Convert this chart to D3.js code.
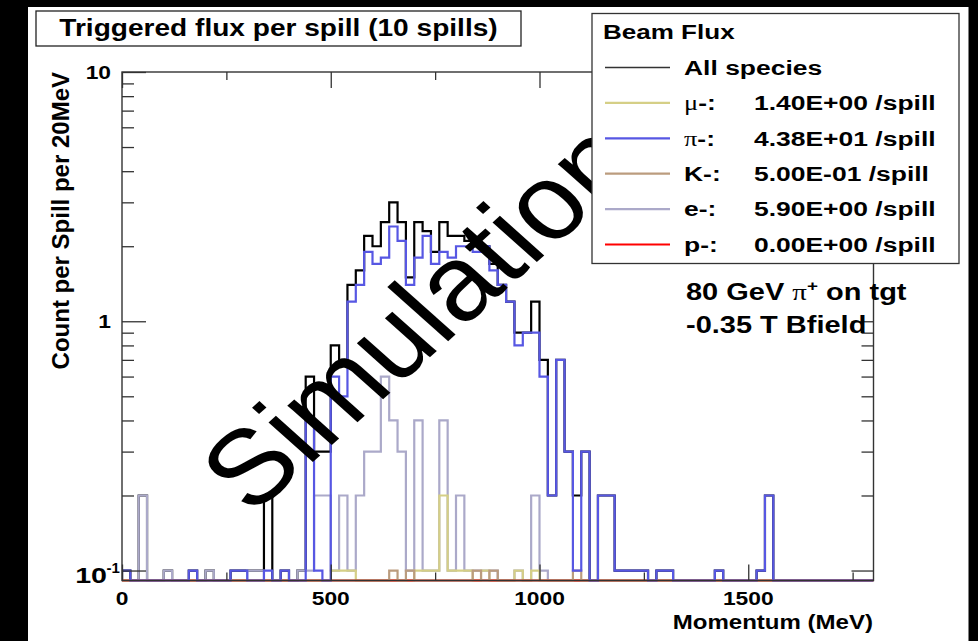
<!DOCTYPE html>
<html>
<head>
<meta charset="utf-8">
<script src="https://cdn.jsdelivr.net/npm/d3@7/dist/d3.min.js"></script>
<style>
  html, body { margin: 0; padding: 0; background: #fff; }
  svg { display: block; }
  text { font-family: "Liberation Sans", Arial, Helvetica, sans-serif; font-weight: bold; fill: #000; }
</style>
</head>
<body>
<svg id="chart" width="978" height="641"></svg>
<script>
// ---- Binning: 90 bins of 20 MeV from 0 to 1800 MeV ----
const binWidth = 20;
const nBins = 90;

// ---- Count per spill per 20 MeV, one value per bin ----
const allSpecies = [
  0.1, 0, 0.2, 0, 0, 0.1, 0, 0, 0.1, 0,
  0.1, 0, 0, 0.1, 0.1, 0.1, 0.1, 0.2, 0, 0.1,
  0, 0.1, 0.6, 0.3, 0.3, 0.8, 0.7, 1.4, 1.6, 2.2,
  2.0, 2.5, 3.0, 2.5, 1.5, 2.5, 2.3, 1.9, 2.5, 2.2,
  2.2, 2.1, 2.0, 2.0, 1.7, 1.4, 1.2, 0.9, 0.9, 1.2,
  0.7, 0.2, 0.7, 0.3, 0.2, 0.3, 0, 0.2, 0.2, 0.1,
  0.1, 0.1, 0.1, 0, 0.1, 0.1, 0, 0, 0, 0,
  0, 0.1, 0, 0, 0, 0, 0.1, 0.2, 0, 0,
  0, 0, 0, 0, 0, 0, 0, 0, 0, 0
];
const muMinus = [
  0, 0, 0, 0, 0, 0, 0, 0, 0, 0,
  0, 0, 0, 0, 0, 0, 0, 0, 0, 0,
  0, 0, 0, 0, 0, 0.1, 0.1, 0.1, 0, 0,
  0, 0, 0, 0, 0, 0.1, 0.1, 0.1, 0.2, 0.1,
  0.1, 0.1, 0, 0.1, 0, 0, 0, 0.1, 0, 0.1,
  0, 0, 0, 0, 0, 0, 0, 0, 0, 0,
  0, 0, 0, 0, 0, 0, 0, 0, 0, 0,
  0, 0, 0, 0, 0, 0, 0, 0, 0, 0,
  0, 0, 0, 0, 0, 0, 0, 0, 0, 0
];
const piMinus = [
  0.1, 0, 0, 0, 0, 0, 0, 0, 0.1, 0,
  0, 0, 0, 0.1, 0.1, 0, 0, 0.1, 0, 0.1,
  0, 0, 0.4, 0.1, 0, 0.6, 0.5, 1.2, 1.4, 1.9,
  1.7, 1.8, 2.4, 2.1, 1.4, 1.8, 2.2, 1.7, 1.9, 1.8,
  2.0, 2.0, 1.9, 2.0, 1.6, 1.4, 1.2, 0.8, 0.9, 0.9,
  0.6, 0.2, 0.7, 0.3, 0.1, 0.3, 0, 0.2, 0.2, 0.1,
  0.1, 0.1, 0.1, 0, 0.1, 0.1, 0, 0, 0, 0,
  0, 0.1, 0, 0, 0, 0, 0.1, 0.2, 0, 0,
  0, 0, 0, 0, 0, 0, 0, 0, 0, 0
];
const kMinus = [
  0, 0, 0, 0, 0, 0, 0, 0, 0, 0,
  0, 0, 0, 0, 0, 0, 0, 0, 0, 0,
  0, 0, 0, 0, 0, 0, 0, 0, 0, 0,
  0, 0, 0.1, 0, 0.1, 0, 0, 0, 0, 0,
  0, 0, 0.1, 0, 0.1, 0, 0, 0, 0, 0,
  0, 0, 0, 0, 0.1, 0, 0, 0, 0, 0,
  0, 0, 0, 0, 0, 0, 0, 0, 0, 0,
  0, 0, 0, 0, 0, 0, 0, 0, 0, 0,
  0, 0, 0, 0, 0, 0, 0, 0, 0, 0
];
const eMinus = [
  0, 0, 0.2, 0, 0, 0.1, 0, 0, 0, 0,
  0.1, 0, 0, 0, 0, 0.1, 0.1, 0, 0, 0,
  0, 0.1, 0.1, 0.2, 0.2, 0.1, 0.2, 0.1, 0.2, 0.3,
  0.3, 0.6, 0.4, 0.3, 0.1, 0.4, 0.1, 0.1, 0.4, 0.1,
  0.2, 0.1, 0.1, 0.1, 0.1, 0, 0, 0.1, 0, 0.2,
  0.1, 0, 0, 0, 0, 0, 0, 0, 0, 0,
  0, 0, 0, 0, 0, 0, 0, 0, 0, 0,
  0, 0, 0, 0, 0, 0, 0, 0, 0, 0,
  0, 0, 0, 0, 0, 0, 0, 0, 0, 0
];
const pMinus = new Array(90).fill(0);

// ---- Axis ticks and labels ----
const xMajorTicks = [0, 500, 1000, 1500];
const xMinorTicks = [250, 750, 1250, 1750];
const xTickLabels = ["0", "500", "1000", "1500"];
const yMajorTicks = [0.1, 1, 10];
const yMinorTicks = [0.2, 0.3, 0.4, 0.5, 0.6, 0.7, 0.8, 0.9, 2, 3, 4, 5, 6, 7, 8, 9];
const yTickLabels = [{ base: "10", exp: "-1" }, { base: "1", exp: "" }, { base: "10", exp: "" }];

// ---- Series styling (draw order: last on top) ----
const series = [
  { key: "all", values: allSpecies, color: "#000000" },
  { key: "e",   values: eMinus,     color: "#aba9c9" },
  { key: "mu",  values: muMinus,    color: "#d5cf86" },
  { key: "p",   values: pMinus,     color: "#ff0000" },
  { key: "K",   values: kMinus,     color: "#bb9c7e" },
  { key: "pi",  values: piMinus,    color: "#5757e3" }
];

const legendRows = [
  { sym: "",  label: "All species", color: "#333333", width: 1.4, values: null },
  { sym: "\u03bc", label: "-:", color: "#d5cf86", width: 2.2, values: muMinus },
  { sym: "\u03c0", label: "-:", color: "#5757e3", width: 2.2, values: piMinus },
  { sym: "",  label: "K-:", color: "#bb9c7e", width: 2.2, values: kMinus },
  { sym: "",  label: "e-:", color: "#aba9c9", width: 2.2, values: eMinus },
  { sym: "",  label: "p-:", color: "#ff0000", width: 2.2, values: pMinus }
];

// ---- Layout ----
const svg = d3.select("#chart");
const frame = { left: 122, right: 873.5, top: 72, bottom: 580.5 };

const x = d3.scaleLinear().domain([0, nBins * binWidth]).range([frame.left, frame.right]);
const y = d3.scaleLog().domain([0.0912, 10]).range([frame.bottom, frame.top]);

// Horizontally widened text helper
function wideText(parent, px, py, str, size, sx, anchor) {
  return parent.append("text")
    .attr("transform", `translate(${px},${py}) scale(${sx},1)`)
    .attr("text-anchor", anchor || "start")
    .style("font-size", size + "px")
    .text(str);
}

function rootExp(v) {
  const s = (Math.round(v * 1000) / 1000).toExponential(2).toUpperCase();
  const [m, e] = s.split("E");
  const sign = e[0] === "-" ? "-" : "+";
  const digits = e.replace(/[+-]/, "").padStart(2, "0");
  return `${m}E${sign}${digits}`;
}

svg.append("rect").attr("width", 978).attr("height", 641).attr("fill", "#fff");

// ---- Histograms ----
svg.append("clipPath").attr("id", "frameClip")
  .append("rect")
  .attr("x", frame.left).attr("y", frame.top - 2)
  .attr("width", frame.right - frame.left).attr("height", frame.bottom - frame.top + 5);

function stepPoints(vals) {
  const level = v => (v > 0 ? y(v) : frame.bottom);
  const pts = [[x(0), frame.bottom]];
  vals.forEach((v, i) => {
    pts.push([x(i * binWidth), level(v)], [x((i + 1) * binWidth), level(v)]);
  });
  pts.push([x(vals.length * binWidth), frame.bottom]);
  return pts;
}
const line = d3.line();
const histG = svg.append("g").attr("clip-path", "url(#frameClip)");
histG.selectAll("path.hist").data(series).join("path")
  .attr("class", "hist")
  .attr("d", d => line(stepPoints(d.values)))
  .attr("fill", "none")
  .attr("stroke", d => d.color)
  .attr("stroke-width", 2.2)
  .attr("stroke-linejoin", "miter");

// ---- Axes (ticks pointing inward on all four sides) ----
const axisColor = "#333";
function styleAxis(g) {
  g.select(".domain").remove();
  g.selectAll("line").attr("stroke", axisColor).attr("stroke-width", 1.3);
  g.selectAll("text").remove();
}
svg.append("g").attr("transform", `translate(0,${frame.bottom})`)
  .call(d3.axisBottom(x).tickValues(xMajorTicks).tickSize(-16)).call(styleAxis);
svg.append("g").attr("transform", `translate(0,${frame.bottom})`)
  .call(d3.axisBottom(x).tickValues(xMinorTicks).tickSize(-8)).call(styleAxis);
svg.append("g").attr("transform", `translate(0,${frame.top})`)
  .call(d3.axisTop(x).tickValues(xMajorTicks).tickSize(-16)).call(styleAxis);
svg.append("g").attr("transform", `translate(0,${frame.top})`)
  .call(d3.axisTop(x).tickValues(xMinorTicks).tickSize(-8)).call(styleAxis);
svg.append("g").attr("transform", `translate(${frame.left},0)`)
  .call(d3.axisLeft(y).tickValues(yMajorTicks).tickSize(-24)).call(styleAxis);
svg.append("g").attr("transform", `translate(${frame.left},0)`)
  .call(d3.axisLeft(y).tickValues(yMinorTicks).tickSize(-12)).call(styleAxis);
svg.append("g").attr("transform", `translate(${frame.right},0)`)
  .call(d3.axisRight(y).tickValues(yMajorTicks).tickSize(-22)).call(styleAxis);
svg.append("g").attr("transform", `translate(${frame.right},0)`)
  .call(d3.axisRight(y).tickValues(yMinorTicks).tickSize(-12)).call(styleAxis);

svg.append("rect")
  .attr("x", frame.left).attr("y", frame.top)
  .attr("width", frame.right - frame.left).attr("height", frame.bottom - frame.top)
  .attr("fill", "none").attr("stroke", axisColor).attr("stroke-width", 1.4);

// Tick labels
xMajorTicks.forEach((t, i) => wideText(svg, x(t), 605, xTickLabels[i], 19, 1.2, "middle"));
yMajorTicks.forEach((t, i) => {
  const lab = yTickLabels[i];
  if (lab.exp) {
    wideText(svg, 107, y(t) + 12.5, lab.base, 22, 1.3, "end");
    wideText(svg, 106.5, y(t) + 2.5, lab.exp, 15, 1.0, "start");
  } else {
    wideText(svg, 111, y(t) + 7, lab.base, 19, 1.2, "end");
  }
});

// Axis titles
wideText(svg, 873, 629, "Momentum (MeV)", 21, 1.145, "end");
svg.append("text")
  .attr("transform", `translate(68.5,${frame.top}) rotate(-90)`)
  .attr("text-anchor", "end")
  .style("font-size", "24px")
  .text("Count per Spill per 20MeV");

// ---- Watermark ----
svg.append("text")
  .attr("transform", "translate(417,315) scale(1.12,1) rotate(-45)")
  .attr("text-anchor", "middle")
  .attr("dy", "0.36em")
  .style("font-weight", "normal")
  .style("font-size", "106px")
  .text("Simulation");

// ---- Beam / field annotation ----
const ann = wideText(svg, 686, 300, "80 GeV  ", 23, 1.26, "start");
ann.append("tspan").style("font-family", "'Liberation Serif', serif").style("font-weight", "normal").text("\u03c0");
ann.append("tspan").attr("dy", -9).style("font-size", "15px").text("+");
ann.append("tspan").attr("dy", 9).text(" on tgt");
wideText(svg, 686, 333, "-0.35 T Bfield", 23, 1.26, "start");

// ---- Legend ----
const lg = svg.append("g");
lg.append("rect")
  .attr("x", 592).attr("y", 13.5).attr("width", 367).attr("height", 250)
  .attr("fill", "#fff").attr("stroke", axisColor).attr("stroke-width", 1.3);
wideText(lg, 603, 38.5, "Beam Flux", 21, 1.24, "start");
legendRows.forEach((r, i) => {
  const cy = 67.5 + i * 35.4;
  lg.append("line")
    .attr("x1", 605).attr("x2", 670).attr("y1", cy).attr("y2", cy)
    .attr("stroke", r.color).attr("stroke-width", r.width);
  const t = wideText(lg, 684, cy + 7.3, "", 21, 1.26, "start");
  if (r.sym) {
    t.append("tspan").style("font-family", "'Liberation Serif', serif").style("font-weight", "normal").text(r.sym);
  }
  t.append("tspan").text(r.label);
  if (r.values) {
    wideText(lg, 754, cy + 7.3, `${rootExp(d3.sum(r.values))} /spill`, 21, 1.26, "start");
  }
});

// ---- Title box ----
svg.append("rect")
  .attr("x", 36).attr("y", 11).attr("width", 485).attr("height", 35)
  .attr("fill", "#fff").attr("stroke", "#222").attr("stroke-width", 1.3);
wideText(svg, 278.5, 35.5, "Triggered flux per spill (10 spills)", 24, 1.17, "middle");

// ---- Outer dark border ----
svg.append("rect").attr("x", 0).attr("y", 0).attr("width", 28).attr("height", 641).attr("fill", "#000");
svg.append("rect").attr("x", 0).attr("y", 0).attr("width", 978).attr("height", 7).attr("fill", "#000");
svg.append("rect").attr("x", 968.5).attr("y", 0).attr("width", 9.5).attr("height", 641).attr("fill", "#000");
</script>
</body>
</html>
